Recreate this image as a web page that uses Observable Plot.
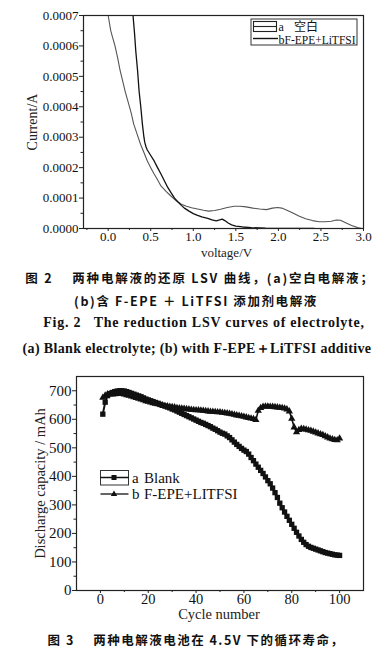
<!DOCTYPE html>
<html><head><meta charset="utf-8">
<script src="https://cdn.jsdelivr.net/npm/d3@7"></script>
<script src="https://cdn.jsdelivr.net/npm/@observablehq/plot@0.6"></script>
<style>
html,body{margin:0;padding:0;background:#fff;}
#wrap{position:relative;width:380px;height:652px;overflow:hidden;background:#fff;}
.abs{position:absolute;}
.cap{position:absolute;left:0;width:380px;text-align:center;white-space:pre;font-weight:bold;color:#111;}
.cn{font-family:"Noto Sans CJK SC","Liberation Serif",serif;font-size:12.5px;letter-spacing:1.5px;}
.en{font-family:"Liberation Serif",serif;font-size:14px;}
</style></head>
<body><div id="wrap">
<div id="topchart" class="abs" style="left:0;top:0"></div>
<div id="botchart" class="abs" style="left:0;top:362px"></div>
</div>
<script>
// ---------- Figure 2: LSV curves ----------
const voltageA = [0.00,0.03,0.05,0.08,0.11,0.14,0.17,0.20,0.23,0.27,0.30,0.34,0.38,0.42,0.46,0.50,0.54,0.58,0.62,0.68,0.74,0.80,0.86,0.92,0.98,1.05,1.12,1.18,1.25,1.32,1.40,1.48,1.55,1.62,1.70,1.78,1.86,1.93,1.99,2.04,2.10,2.17,2.24,2.32,2.40,2.48,2.55,2.62,2.68,2.73,2.79,2.86,2.93,2.98];
const currentA = [0.00070,0.00065,0.00063,0.00060,0.000562,0.00052,0.000485,0.00045,0.00042,0.00038,0.000343,0.00031,0.000277,0.00025,0.000222,0.0002,0.000179,0.00016,0.00014,0.000122,0.000106,0.000091,0.00008,0.000073,0.000068,0.000064,0.00006,0.000057,0.000059,0.000063,0.000069,0.000073,0.000073,0.000071,0.000067,0.000064,0.000062,0.000067,0.000069,0.000067,0.00006,0.000051,0.000041,0.000032,0.000026,0.000022,0.000022,0.000024,0.000028,0.000027,0.000019,0.00001,0.000003,0.0];
const voltageB = [0.292,0.31,0.324,0.345,0.363,0.383,0.402,0.42,0.43,0.445,0.46,0.50,0.54,0.58,0.62,0.66,0.70,0.74,0.78,0.82,0.86,0.90,0.95,1.00,1.05,1.10,1.17,1.22,1.27,1.31,1.34,1.37,1.41,1.45,1.50,1.58,1.68,1.85,2.10,2.42];
const currentB = [0.0007,0.00064,0.000584,0.00052,0.000452,0.0004,0.000343,0.0003,0.000283,0.000268,0.000258,0.00024,0.000222,0.0002,0.000179,0.000157,0.000135,0.000117,0.0001,0.000087,0.000076,0.000066,0.000057,0.000049,0.000043,0.000038,0.000033,0.000028,0.000025,0.000028,0.000031,0.000026,0.000018,0.000012,0.000008,0.000005,0.000003,0.000001,0.0000005,0.0];
const voltTicks = [0, 0.5, 1.0, 1.5, 2.0, 2.5, 3.0];
const voltMinor = [-0.25, 0.25, 0.75, 1.25, 1.75, 2.25, 2.75];
const currTicks = [0, 0.0001, 0.0002, 0.0003, 0.0004, 0.0005, 0.0006, 0.0007];
const currMinor = [0.00005, 0.00015, 0.00025, 0.00035, 0.00045, 0.00055, 0.00065];
const legendTopKeys = ["a", "b"];
const legendTopNames = ["空白", "F-EPE+LiTFSI"];
const captionFig2 = ["图 2\u2003 两种电解液的还原 LSV 曲线，(a)空白电解液；", "(b)含 F-EPE ＋ LiTFSI 添加剂电解液", "Fig. 2   The reduction LSV curves of electrolyte,", "(a) Blank electrolyte; (b) with F-EPE＋LiTFSI additive"];

// ---------- Figure 3: cycle life ----------
const cycles = d3.range(1, 101);
const capacityBlank = [618,660,683,690,694,697,699,700,700,699,
 697,694,691,688,685,682,679,675,671,668,
 665,662,659,656,652,649,646,643,640,636,
 633,629,625,621,617,613,609,605,601,597,
 593,589,586,582,578,574,569,565,560,555,
 551,548,542,536,528,520,512,505,498,492,
 487,478,466,455,443,432,421,410,398,385,
 374,359,343,326,306,290,275,260,246,232,
 218,204,191,179,169,161,155,151,148,145,
 142,139,136,133,131,129,127,125,124,123];
const capacityAdd = [676,684,688,688,687,688,689,690,689,687,
 685,683,680,678,675,672,670,667,664,662,
 659,657,655,653,651,649,647,646,644,643,
 642,640,639,638,637,636,635,634,633,632,
 632,631,630,629,628,627,627,626,625,625,
 623,622,621,620,618,616,614,613,611,609,
 607,605,603,601,598,630,640,644,645,645,
 644,644,643,642,641,640,638,635,628,602,
 572,555,563,567,566,564,562,560,557,554,
 551,548,545,541,537,533,530,528,527,533];
const cycleTicks = [0, 20, 40, 60, 80, 100];
const cycleMinor = [10, 30, 50, 70, 90];
const capTicks = [0, 100, 200, 300, 400, 500, 600, 700];
const capMinor = [50, 150, 250, 350, 450, 550, 650];
const legendBottomKeys = ["a", "b"];
const legendBottomNames = ["Blank", "F-EPE+LITFSI"];
const captionFig3 = "图 3\u2003 两种电解液电池在 4.5V 下的循环寿命，";

const lsvA = voltageA.map((v, i) => ({v, c: currentA[i]}));
const lsvB = voltageB.map((v, i) => ({v, c: currentB[i]}));
const cycA = cycles.map((n, i) => ({n, q: capacityBlank[i]}));
const cycB = cycles.map((n, i) => ({n, q: capacityAdd[i]}));

const serif = "Liberation Serif, Times New Roman, serif";

const topPlot = Plot.plot({
  width: 380, height: 262,
  marginLeft: 83, marginRight: 17, marginTop: 15, marginBottom: 34,
  style: {fontFamily: serif, fontSize: "13px", color: "#111", background: "transparent"},
  x: {domain: [-0.29, 3.0]},
  y: {domain: [0, 0.0007]},
  marks: [
    Plot.axisX(voltTicks, {tickSize: 3, tickPadding: 0, tickFormat: d3.format(".1f"), label: null, stroke: "#222", fontSize: 13}),
    Plot.axisX(voltMinor, {tickSize: 2, tickFormat: () => "", label: null, stroke: "#222"}),
    Plot.axisY(currTicks, {tickSize: 4, tickPadding: 1, tickFormat: d3.format(".4f"), label: null, stroke: "#222", fontSize: 13}),
    Plot.axisY(currMinor, {tickSize: 2.5, tickFormat: () => "", label: null, stroke: "#222"}),
    Plot.line(lsvA, {x: "v", y: "c", stroke: "#555", strokeWidth: 1.1, clip: true}),
    Plot.line(lsvB, {x: "v", y: "c", stroke: "#111", strokeWidth: 1.3, clip: true}),
    Plot.frame({stroke: "#222", strokeWidth: 1.2}),
    Plot.text(["Current/A"], {frameAnchor: "left", textAnchor: "middle", lineAnchor: "middle", rotate: -90, dx: -51, fontSize: 14, fill: "#222"}),
    Plot.text(["voltage/V"], {frameAnchor: "bottom", textAnchor: "middle", lineAnchor: "middle", dy: 24, dx: 3, fontSize: 13, fill: "#222"})
  ]
});
document.getElementById("topchart").append(topPlot);

const botPlot = Plot.plot({
  width: 380, height: 262,
  marginLeft: 76, marginRight: 17, marginTop: 14, marginBottom: 34,
  style: {fontFamily: serif, fontSize: "15px", color: "#111", background: "transparent"},
  x: {domain: [-10, 110]},
  y: {domain: [0, 750]},
  marks: [
    Plot.axisX(cycleTicks, {tickSize: 3, tickPadding: 0, label: null, stroke: "#222", fontSize: 14.5}),
    Plot.axisX(cycleMinor, {tickSize: 2, tickFormat: () => "", label: null, stroke: "#222"}),
    Plot.axisY(capTicks, {tickSize: 4, tickPadding: 1, label: null, stroke: "#222", fontSize: 15}),
    Plot.axisY(capMinor, {tickSize: 2.5, tickFormat: () => "", label: null, stroke: "#222"}),
    Plot.line(cycB, {x: "n", y: "q", stroke: "#111", strokeWidth: 1.6}),
    Plot.dot(cycB, {x: "n", y: "q", symbol: "triangle", r: 2.7, fill: "#111", stroke: "none"}),
    Plot.line(cycA, {x: "n", y: "q", stroke: "#111", strokeWidth: 2}),
    Plot.dot(cycA, {x: "n", y: "q", symbol: "square", r: 3, fill: "#111", stroke: "none"}),
    Plot.frame({stroke: "#222", strokeWidth: 1.2}),
    Plot.text(["Discharge capacity / mAh"], {frameAnchor: "left", textAnchor: "middle", lineAnchor: "middle", rotate: -90, dx: -36, fontSize: 14.5, fill: "#222"}),
    Plot.text(["Cycle number"], {frameAnchor: "bottom", textAnchor: "middle", lineAnchor: "middle", dy: 24, dx: -1, fontSize: 14.5, fill: "#222"})
  ]
});
document.getElementById("botchart").append(botPlot);

// ---------- legends (overlay) ----------
const wrap = document.getElementById("wrap");
const NS = "http://www.w3.org/2000/svg";
function svgEl(tag, attrs, parent, txt) {
  const e = document.createElementNS(NS, tag);
  for (const k in attrs) e.setAttribute(k, attrs[k]);
  if (txt != null) e.textContent = txt;
  parent.appendChild(e); return e;
}
const ov = svgEl("svg", {width: 380, height: 652, style: "position:absolute;left:0;top:0;pointer-events:none"}, wrap);
// top legend
svgEl("rect", {x: 251, y: 19, width: 106, height: 26, fill: "#fff", stroke: "#333", "stroke-width": 1}, ov);
svgEl("rect", {x: 253.5, y: 21.5, width: 23, height: 10, fill: "none", stroke: "#222", "stroke-width": 1.1}, ov);
svgEl("line", {x1: 253.5, x2: 276.5, y1: 26.5, y2: 26.5, stroke: "#222", "stroke-width": 1.1}, ov);
svgEl("line", {x1: 253, x2: 278, y1: 38.5, y2: 38.5, stroke: "#111", "stroke-width": 1.4}, ov);
svgEl("text", {x: 278.5, y: 31, "font-family": serif, "font-size": 12, fill: "#111"}, ov, legendTopKeys[0]);
svgEl("text", {x: 294, y: 31, "font-family": "Noto Sans CJK SC", "font-size": 12, fill: "#111"}, ov, legendTopNames[0]);
svgEl("text", {x: 278.5, y: 43.5, "font-family": serif, "font-size": 12, fill: "#111"}, ov, legendTopKeys[1]);
svgEl("text", {x: 284.5, y: 43.5, "font-family": serif, "font-size": 12, fill: "#111", textLength: 71, lengthAdjust: "spacingAndGlyphs"}, ov, legendTopNames[1]);
// bottom legend
svgEl("rect", {x: 100.5, y: 470.5, width: 28, height: 14.5, fill: "#fff", stroke: "#333", "stroke-width": 1}, ov);
svgEl("line", {x1: 100.5, x2: 128.5, y1: 477.5, y2: 477.5, stroke: "#111", "stroke-width": 1.5}, ov);
svgEl("rect", {x: 111.5, y: 475, width: 5, height: 5, fill: "#111"}, ov);
svgEl("line", {x1: 100.5, x2: 128.5, y1: 494, y2: 494, stroke: "#111", "stroke-width": 1.3}, ov);
svgEl("path", {d: "M114,490.5 L117.2,496 L110.8,496 Z", fill: "#111"}, ov);
svgEl("text", {x: 132, y: 483, "font-family": serif, "font-size": 15, fill: "#111"}, ov, legendBottomKeys[0]);
svgEl("text", {x: 144, y: 483, "font-family": serif, "font-size": 15, fill: "#111"}, ov, legendBottomNames[0]);
svgEl("text", {x: 132, y: 499, "font-family": serif, "font-size": 15, fill: "#111"}, ov, legendBottomKeys[1]);
svgEl("text", {x: 144, y: 499, "font-family": serif, "font-size": 15, fill: "#111"}, ov, legendBottomNames[1]);

// ---------- captions ----------
function cap(text, cls, topPx, dx, ls) {
  const d = document.createElement("div");
  d.className = "cap " + cls; d.style.top = topPx + "px"; d.style.left = (dx || 0) + "px";
  if (ls != null) d.style.letterSpacing = ls + "px";
  d.textContent = text; wrap.appendChild(d);
}
cap(captionFig2[0], "cn", 268, 10, 1.8);
cap(captionFig2[1], "cn", 291, 6, 1.6);
cap(captionFig2[2], "en", 315, 14, 0.75);
cap(captionFig2[3], "en", 340, 7, 0.35);
cap(captionFig3, "cn", 630, 6, 1.5);
</script>
</body></html>
